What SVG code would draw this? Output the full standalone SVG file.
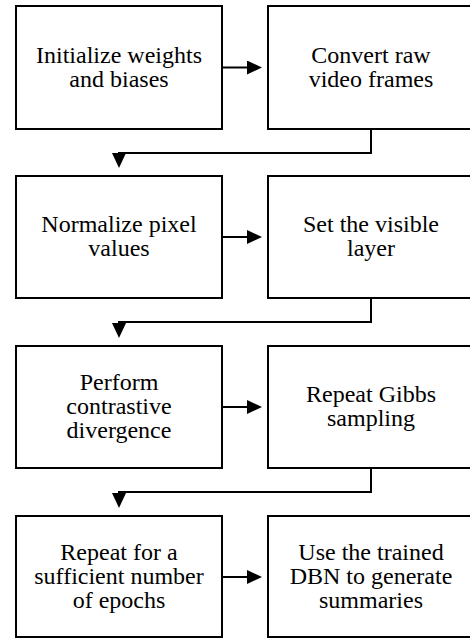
<svg xmlns="http://www.w3.org/2000/svg" width="470" height="638" viewBox="0 0 470 638">
<style>
.box{fill:#fff;stroke:#000;stroke-width:2}
.t{font-size:24px;fill:#000;text-anchor:middle}
.c{fill:none;stroke:#000;stroke-width:2}
</style>
<defs>
<marker id="ah" markerUnits="userSpaceOnUse" markerWidth="15" markerHeight="14" refX="2" refY="7" orient="auto">
<path d="M0,0 L15,7 L0,14 z" fill="#000"/>
</marker>
</defs>
<rect width="470" height="638" fill="#fff"/>
<g id="nodes" font-family="Liberation Serif">
<g id="n1"><rect class="box" x="16" y="6" width="206" height="123"/><text class="t" x="119" y="62.5">Initialize weights</text><text class="t" x="119" y="86.5">and biases</text></g>
<g id="n2"><rect class="box" x="268" y="6" width="206" height="123"/><text class="t" x="371" y="62.5">Convert raw</text><text class="t" x="371" y="86.5">video frames</text></g>
<g id="n3"><rect class="box" x="16" y="176" width="206" height="122"/><text class="t" x="119" y="232">Normalize pixel</text><text class="t" x="119" y="256">values</text></g>
<g id="n4"><rect class="box" x="268" y="176" width="206" height="122"/><text class="t" x="371" y="232">Set the visible</text><text class="t" x="371" y="256">layer</text></g>
<g id="n5"><rect class="box" x="16" y="346" width="206" height="122"/><text class="t" x="119" y="390">Perform</text><text class="t" x="119" y="414">contrastive</text><text class="t" x="119" y="438">divergence</text></g>
<g id="n6"><rect class="box" x="268" y="346" width="206" height="122"/><text class="t" x="371" y="402">Repeat Gibbs</text><text class="t" x="371" y="426">sampling</text></g>
<g id="n7"><rect class="box" x="16" y="516" width="206" height="121"/><text class="t" x="119" y="560">Repeat for a</text><text class="t" x="119" y="584">sufficient number</text><text class="t" x="119" y="608">of epochs</text></g>
<g id="n8"><rect class="box" x="268" y="516" width="206" height="121"/><text class="t" x="371" y="560">Use the trained</text><text class="t" x="371" y="584">DBN to generate</text><text class="t" x="371" y="608">summaries</text></g>
</g>
<g id="connectors">
<path class="c" d="M222,67.5 H249" marker-end="url(#ah)"/>
<path class="c" d="M371,129 V153 H119 V155" marker-end="url(#ah)"/>
<path class="c" d="M222,237 H249" marker-end="url(#ah)"/>
<path class="c" d="M371,298 V322 H119 V325" marker-end="url(#ah)"/>
<path class="c" d="M222,407 H249" marker-end="url(#ah)"/>
<path class="c" d="M371,468 V492 H119 V495" marker-end="url(#ah)"/>
<path class="c" d="M222,577 H249" marker-end="url(#ah)"/>
</g>
</svg>
